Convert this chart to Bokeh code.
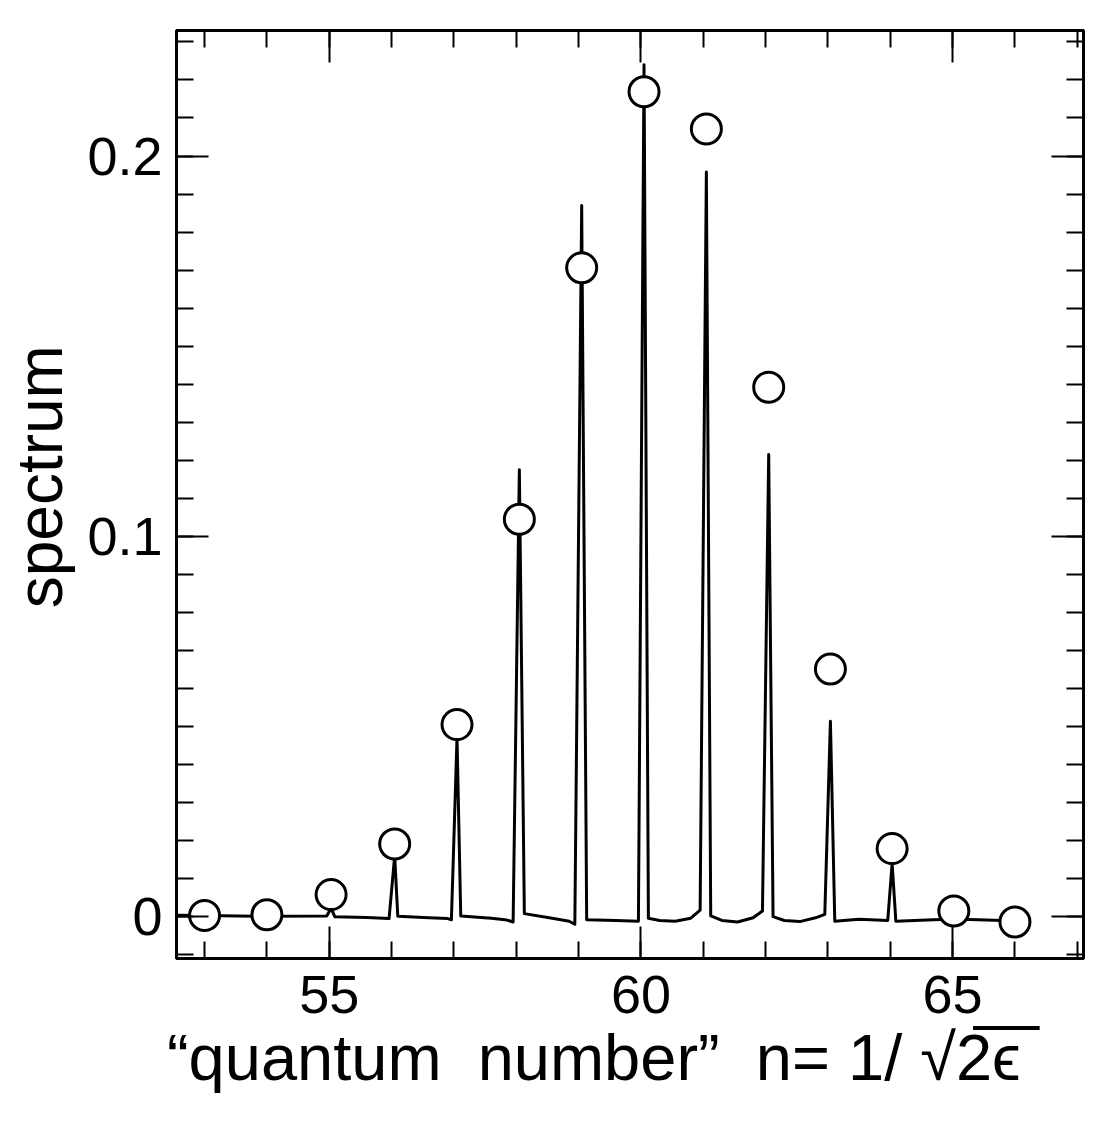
from bokeh.plotting import figure
from bokeh.models import (LinearAxis, FixedTicker, CustomJSTickFormatter, Range1d)
from bokeh.embed import file_html
from bokeh.resources import INLINE

# ---------------- data ----------------
# continuous spectrum curve (n, value)
spec_n = [
    52.55, 53.00, 54.00, 54.96,
    55.03, 55.09,
    55.60, 55.96,
    56.05, 56.10,
    56.60, 56.90, 56.96,
    57.05, 57.11,
    57.60, 57.85, 57.95,
    58.05, 58.13,
    58.60, 58.85, 58.94,
    59.05, 59.13,
    59.60, 59.96,
    60.05, 60.12,
    60.30, 60.55, 60.80, 60.95,
    61.05, 61.12,
    61.30, 61.55, 61.80, 61.95,
    62.05, 62.12,
    62.30, 62.55, 62.80, 62.95,
    63.04, 63.11,
    63.50, 63.96,
    64.03, 64.09,
    65.00, 65.94,
]
spec_val = [
    0.0004, 0.0003, 0.0001, 0.0002,
    0.0022, 0.0000,
    -0.0002, -0.0005,
    0.0160, 0.0001,
    -0.0003, -0.0005, -0.0008,
    0.0470, 0.0002,
    -0.0004, -0.0009, -0.0014,
    0.1175, 0.0008,
    -0.0005, -0.0012, -0.0020,
    0.1870, -0.0008,
    -0.0010, -0.0012,
    0.2240, -0.0004,
    -0.0010, -0.0012, -0.0004, 0.0017,
    0.1958, 0.0002,
    -0.0010, -0.0014, -0.0003, 0.0015,
    0.1215, 0.0000,
    -0.0010, -0.0013, -0.0003, 0.0006,
    0.0514, -0.0012,
    -0.0007, -0.0010,
    0.0140, -0.0012,
    -0.0006, -0.0011,
]

# open circles (n, value)
circ_n = [53.0, 54.0, 55.03, 56.05, 57.05, 58.05, 59.05, 60.05, 61.05, 62.05,
          63.04, 64.03, 65.02, 66.0]
circ_val = [0.0003, 0.0005, 0.0058, 0.0191, 0.0505, 0.1045, 0.1706, 0.2169, 0.2071,
            0.1392, 0.0651, 0.0179, 0.0015, -0.0014]

x_major = [55, 60, 65]
x_minor = list(range(52, 68))
y_major = [0.0, 0.1, 0.2]
y_minor = [round(-0.01 + 0.01 * i, 2) for i in range(25)]

x_label = ("\u201cquantum\u00a0 number\u201d\u00a0 n= 1/ \u221a2\u0305\u03f5\u0305"
           "\u00a0\u00a0\u00a0\u00a0")
y_label = "\u00a0\u00a0spectrum"

FONT = "Liberation Sans"

# ---------------- figure ----------------
p = figure(width=1092, height=1120, output_backend="svg", toolbar_location=None,
           x_range=Range1d(52.55, 67.1), y_range=Range1d(-0.011, 0.233),
           x_axis_location=None, y_axis_location=None,
           min_border_left=176, min_border_right=9, min_border_top=30, min_border_bottom=162)
p.xgrid.visible = False
p.ygrid.visible = False
p.background_fill_color = "white"
p.border_fill_color = "white"
p.outline_line_color = "black"
p.outline_line_width = 3

yfmt = CustomJSTickFormatter(code="return tick == 0 ? '0' : tick.toFixed(1);")


def style(ax, labels):
    ax.axis_line_width = 3
    ax.axis_line_color = "black"
    ax.major_tick_in = 32
    ax.major_tick_out = 0
    ax.minor_tick_in = 17
    ax.minor_tick_out = 0
    ax.major_tick_line_width = 2
    ax.minor_tick_line_width = 2
    ax.major_tick_line_color = "black"
    ax.minor_tick_line_color = "black"
    if labels:
        ax.major_label_text_font = FONT
        ax.major_label_text_font_size = "54px"
        ax.major_label_text_color = "black"
        ax.axis_label_text_font = FONT
        ax.axis_label_text_font_style = "normal"
        ax.axis_label_text_color = "black"
    else:
        ax.major_label_standoff = 0
        ax.major_label_text_font_size = "1px"
        ax.major_label_text_color = None


xb = LinearAxis(ticker=FixedTicker(ticks=x_major, minor_ticks=x_minor), axis_label=x_label)
style(xb, True)
xb.axis_label_text_font_size = "65px"
xb.major_label_standoff = 17
xb.axis_label_standoff = 5
p.add_layout(xb, "below")

xt = LinearAxis(ticker=FixedTicker(ticks=x_major, minor_ticks=x_minor),
                formatter=CustomJSTickFormatter(code="return '';"))
style(xt, False)
p.add_layout(xt, "above")

yl = LinearAxis(ticker=FixedTicker(ticks=y_major, minor_ticks=y_minor), formatter=yfmt,
                axis_label=y_label)
style(yl, True)
yl.axis_label_text_font_size = "64px"
yl.major_label_standoff = 14
yl.axis_label_standoff = 8
p.add_layout(yl, "left")

yr = LinearAxis(ticker=FixedTicker(ticks=y_major, minor_ticks=y_minor),
                formatter=CustomJSTickFormatter(code="return '';"))
style(yr, False)
p.add_layout(yr, "right")

# ---------------- marks ----------------
p.line(spec_n, spec_val, line_color="black", line_width=3, line_join="round")
p.scatter(circ_n, circ_val, marker="circle", size=30, fill_color="white",
          line_color="black", line_width=3)

open("out.html", "w").write(file_html(p, INLINE))
